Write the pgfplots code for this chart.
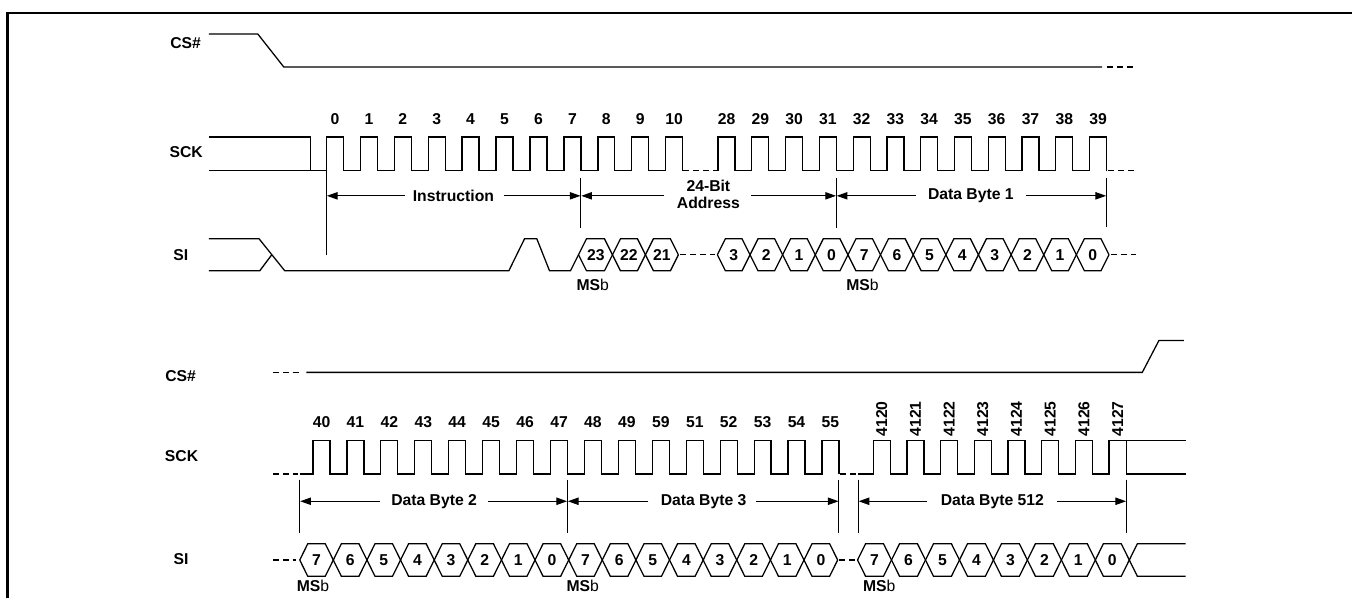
\documentclass[border=0pt]{standalone}
\usepackage{pgfplots}
\pgfplotsset{compat=1.18}
\usepackage{fontspec}
\setmainfont{Liberation Sans}
\newfontfamily\heavyfont{Liberation Sans}[UprightFont={* Bold}]
\newfontfamily\plainfont{Liberation Sans}
\usetikzlibrary{arrows.meta}
\tikzset{
  wave/.style={black, line width=0.95pt, line join=miter},
  dsh/.style={black, line width=0.95pt, dash pattern=on 4.5pt off 3pt},
  mrk/.style={black, line width=0.75pt},
  arr/.style={black, line width=0.75pt, -{Triangle[length=8pt,width=5.5pt]}},
  lbl/.style={font=\heavyfont\fontsize{11.8}{12.75}\selectfont, inner sep=0pt, text=black},
}
\newcommand\lblrow[3]{% style, y, list x/t
  \foreach \x/\t in {#3}{%
    \edef\tmp{\noexpand\node[#1] at (axis cs:\x,#2) {\t};}\tmp}}
\begin{document}
\begin{tikzpicture}
\begin{axis}[
  scale only axis, width=1014.75pt, height=449.25pt,
  xmin=0, xmax=1353, ymin=0, ymax=599, y dir=reverse,
  hide axis, clip=false,
]
% page extent
\addplot[draw=none] coordinates {(0,0)(1353,599)};
% frame
\addplot[black, line width=1.8pt] coordinates {(7.5,599) (7.5,13) (1353,13)};

% ===== Row 1 =====
% CS#
\addplot[wave] coordinates {(209,34)(258,34)(284,67)(1103,67)};
\addplot[dsh] coordinates {(1108,67)(1137,67)};
% SCK
\addplot[wave] coordinates {(209,137)(311,137)(311,171)};
\addplot[wave] coordinates {(209,171)(326.7,171)(326.7,137)(343.7,137)(343.7,171)(360.7,171)(360.7,137)(377.7,137)(377.7,171)(394.6,171)(394.6,137)(411.6,137)(411.6,171)(428.6,171)(428.6,137)(445.6,137)(445.6,171)(462.5,171)(462.5,137)(479.5,137)(479.5,171)(496.5,171)(496.5,137)(513.5,137)(513.5,171)(530.5,171)(530.5,137)(547.5,137)(547.5,171)(564.4,171)(564.4,137)(581.4,137)(581.4,171)(598.4,171)(598.4,137)(615.4,137)(615.4,171)(632.3,171)(632.3,137)(649.3,137)(649.3,171)(666.3,171)(666.3,137)(683.3,137)(683.3,171)};
\addplot[dsh] coordinates {(684,171)(718,171)};
\addplot[wave] coordinates {(718.7,171)(718.7,137)(735.7,137)(735.7,171)(752.5,171)(752.5,137)(769.5,137)(769.5,171)(786.3,171)(786.3,137)(803.3,137)(803.3,171)(820.1,171)(820.1,137)(837.1,137)(837.1,171)(853.9,171)(853.9,137)(870.9,137)(870.9,171)(887.7,171)(887.7,137)(904.7,137)(904.7,171)(921.5,171)(921.5,137)(938.5,137)(938.5,171)(955.3,171)(955.3,137)(972.3,137)(972.3,171)(989.1,171)(989.1,137)(1006.1,137)(1006.1,171)(1022.9,171)(1022.9,137)(1039.9,137)(1039.9,171)(1056.7,171)(1056.7,137)(1073.7,137)(1073.7,171)(1090.5,171)(1090.5,137)(1107.5,137)(1107.5,171)};
\addplot[dsh] coordinates {(1109,171)(1137,171)};
% markers
\addplot[mrk] coordinates {(326.7,171)(326.7,255)};
\addplot[mrk] coordinates {(581.4,178)(581.4,228)};
\addplot[mrk] coordinates {(837.1,178)(837.1,228)};
\addplot[mrk] coordinates {(1107.5,178)(1107.5,227)};
% arrows
\addplot[arr] coordinates {(405,196)(327.2,196)};
\addplot[arr] coordinates {(504,196)(581,196)};
\addplot[arr] coordinates {(665,196)(581.8,196)};
\addplot[arr] coordinates {(751.7,196)(836.7,196)};
\addplot[arr] coordinates {(916.7,196)(837.5,196)};
\addplot[arr] coordinates {(1026.7,196)(1107.1,196)};
% SI
\addplot[wave] coordinates {(209,239)(259.3,239)(285,271)(509.3,271)(525,239)(537.3,239)(550,271)(571,271)(587,239)(605,239)(621,271)(638,271)(654,239)(671,239)(679,255)};
\addplot[wave] coordinates {(209,271)(260,271)(272,255)};
\addplot[wave] coordinates {(579,255)(587,271)(605,271)(621,239)(638,239)(654,271)(671,271)(679,255)};
\addplot[dsh] coordinates {(681,255)(716,255)};
\addplot[wave] coordinates {(718,255)(726,239)(742.7,239)(758.7,271)(775.3,271)(791.3,239)(808,239)(824,271)(840.7,271)(856.7,239)(873.3,239)(889.3,271)(906,271)(922,239)(938.7,239)(954.7,271)(971.3,271)(987.3,239)(1004,239)(1020,271)(1036.7,271)(1052.7,239)(1069.3,239)(1085.3,271)(1102,271)(1110,255)};
\addplot[wave] coordinates {(718,255)(726,271)(742.7,271)(758.7,239)(775.3,239)(791.3,271)(808,271)(824,239)(840.7,239)(856.7,271)(873.3,271)(889.3,239)(906,239)(922,271)(938.7,271)(954.7,239)(971.3,239)(987.3,271)(1004,271)(1020,239)(1036.7,239)(1052.7,271)(1069.3,271)(1085.3,239)(1102,239)(1110,255)};
\addplot[dsh] coordinates {(1112,255)(1137,255)};

% ===== Row 2 =====
% CS#
\addplot[dsh] coordinates {(273,372.7)(302,372.7)};
\addplot[wave] coordinates {(306.7,372.7)(1143.3,372.7)(1160,340.7)(1185,340.7)};
% SCK
\addplot[dsh] coordinates {(273,474.3)(298,474.3)};
\addplot[wave] coordinates {(300,474.3)(313.3,474.3)(313.3,440.7)(330.3,440.7)(330.3,474.3)(347.3,474.3)(347.3,440.7)(364.3,440.7)(364.3,474.3)(381.2,474.3)(381.2,440.7)(398.2,440.7)(398.2,474.3)(415.2,474.3)(415.2,440.7)(432.2,440.7)(432.2,474.3)(449.1,474.3)(449.1,440.7)(466.1,440.7)(466.1,474.3)(483.1,474.3)(483.1,440.7)(500.1,440.7)(500.1,474.3)(517.1,474.3)(517.1,440.7)(534.1,440.7)(534.1,474.3)(551,474.3)(551,440.7)(568,440.7)(568,474.3)(585,474.3)(585,440.7)(602,440.7)(602,474.3)(618.9,474.3)(618.9,440.7)(635.9,440.7)(635.9,474.3)(652.9,474.3)(652.9,440.7)(669.9,440.7)(669.9,474.3)(686.9,474.3)(686.9,440.7)(703.9,440.7)(703.9,474.3)(720.8,474.3)(720.8,440.7)(737.8,440.7)(737.8,474.3)(754.8,474.3)(754.8,440.7)(771.8,440.7)(771.8,474.3)(788.7,474.3)(788.7,440.7)(805.7,440.7)(805.7,474.3)(822.7,474.3)(822.7,440.7)(839.7,440.7)(839.7,474.3)};
\addplot[dsh] coordinates {(841,474.3)(857,474.3)};
\addplot[wave] coordinates {(859,474.3)(874,474.3)(874,440.7)(891,440.7)(891,474.3)(907.7,474.3)(907.7,440.7)(924.7,440.7)(924.7,474.3)(941.4,474.3)(941.4,440.7)(958.4,440.7)(958.4,474.3)(975.1,474.3)(975.1,440.7)(992.1,440.7)(992.1,474.3)(1008.8,474.3)(1008.8,440.7)(1025.8,440.7)(1025.8,474.3)(1042.6,474.3)(1042.6,440.7)(1059.6,440.7)(1059.6,474.3)(1076.3,474.3)(1076.3,440.7)(1093.3,440.7)(1093.3,474.3)(1110,474.3)(1110,440.7)(1186.7,440.7)};
\addplot[wave] coordinates {(1127.5,440.7)(1127.5,474.3)(1186.7,474.3)};
% markers
\addplot[mrk] coordinates {(300,480)(300,533)};
\addplot[mrk] coordinates {(568,480)(568,533)};
\addplot[mrk] coordinates {(839.7,480)(839.7,533)};
\addplot[mrk] coordinates {(859,480)(859,533)};
\addplot[mrk] coordinates {(1127.5,480)(1127.5,533)};
% arrows
\addplot[arr] coordinates {(380,501.7)(300.5,501.7)};
\addplot[arr] coordinates {(488.3,501.7)(567.6,501.7)};
\addplot[arr] coordinates {(649,501.7)(568.4,501.7)};
\addplot[arr] coordinates {(756.7,501.7)(839.3,501.7)};
\addplot[arr] coordinates {(928.3,501.7)(859.4,501.7)};
\addplot[arr] coordinates {(1057.7,501.7)(1127.1,501.7)};
% SI
\addplot[dsh] coordinates {(273,560.5)(296,560.5)};
\addplot[wave] coordinates {(300,560.5)(308,544.3)(325.6,544.3)(341.6,576.7)(359.3,576.7)(375.3,544.3)(392.9,544.3)(408.9,576.7)(426.6,576.7)(442.6,544.3)(460.2,544.3)(476.2,576.7)(493.9,576.7)(509.9,544.3)(527.5,544.3)(543.5,576.7)(561.2,576.7)(577.2,544.3)(594.8,544.3)(610.8,576.7)(628.5,576.7)(644.5,544.3)(662.1,544.3)(678.1,576.7)(695.8,576.7)(711.8,544.3)(729.4,544.3)(745.4,576.7)(763.1,576.7)(779.1,544.3)(796.7,544.3)(812.7,576.7)(830.4,576.7)(838.4,560.5)};
\addplot[wave] coordinates {(300,560.5)(308,576.7)(325.6,576.7)(341.6,544.3)(359.3,544.3)(375.3,576.7)(392.9,576.7)(408.9,544.3)(426.6,544.3)(442.6,576.7)(460.2,576.7)(476.2,544.3)(493.9,544.3)(509.9,576.7)(527.5,576.7)(543.5,544.3)(561.2,544.3)(577.2,576.7)(594.8,576.7)(610.8,544.3)(628.5,544.3)(644.5,576.7)(662.1,576.7)(678.1,544.3)(695.8,544.3)(711.8,576.7)(729.4,576.7)(745.4,544.3)(763.1,544.3)(779.1,576.7)(796.7,576.7)(812.7,544.3)(830.4,544.3)(838.4,560.5)};
\addplot[dsh] coordinates {(840,560.5)(856,560.5)};
\addplot[wave] coordinates {(858.3,560.5)(866.3,544.3)(884.3,544.3)(900.3,576.7)(918.3,576.7)(934.3,544.3)(952.3,544.3)(968.3,576.7)(986.3,576.7)(1002.3,544.3)(1020.3,544.3)(1036.3,576.7)(1054.3,576.7)(1070.3,544.3)(1088.3,544.3)(1104.3,576.7)(1122.3,576.7)(1138.3,544.3)(1186.7,544.3)};
\addplot[wave] coordinates {(858.3,560.5)(866.3,576.7)(884.3,576.7)(900.3,544.3)(918.3,544.3)(934.3,576.7)(952.3,576.7)(968.3,544.3)(986.3,544.3)(1002.3,576.7)(1020.3,576.7)(1036.3,544.3)(1054.3,544.3)(1070.3,576.7)(1088.3,576.7)(1104.3,544.3)(1122.3,544.3)(1138.3,576.7)(1186.7,576.7)};

% ===== Text =====
% signal names
\node[lbl] at (axis cs:185.8,43.3) {CS\#};
\node[lbl] at (axis cs:186.3,152.5) {SCK};
\node[lbl] at (axis cs:181,255) {SI};
\node[lbl] at (axis cs:180.8,376) {CS\#};
\node[lbl] at (axis cs:181.7,456.7) {SCK};
\node[lbl] at (axis cs:181.2,560) {SI};
% clock numbers
\lblrow{lbl}{119.5}{335.2/0,369.2/1,403.1/2,437.1/3,471/4,505/5,539/6,572.9/7,606.9/8,640.8/9,674.8/10,727.2/28,761/29,794.8/30,828.6/31,862.4/32,896.2/33,930/34,963.8/35,997.6/36,1031.4/37,1065.2/38,1099/39}
\lblrow{lbl}{422.7}{321.8/40,355.8/41,389.7/42,423.7/43,457.6/44,491.6/45,525.6/46,559.5/47,593.5/48,627.4/49,661.4/59,695.4/51,729.3/52,763.3/53,797.2/54,831.2/55}
\lblrow{lbl,rotate=90,anchor=west}{437}{882.5/4120,916.2/4121,949.9/4122,983.6/4123,1017.3/4124,1051.1/4125,1084.8/4126,1118.5/4127}
% interval labels
\node[lbl] at (axis cs:453.8,196) {Instruction};
\node[lbl, align=center] at (axis cs:709,194.5) {24-Bit\\Address};
\node[lbl] at (axis cs:971.7,196) {Data Byte 1};
\node[lbl] at (axis cs:434.5,501.7) {Data Byte 2};
\node[lbl] at (axis cs:704.2,501.7) {Data Byte 3};
\node[lbl] at (axis cs:993.2,501.7) {Data Byte 512};
% bit labels
\lblrow{lbl}{255}{596.3/23,629.5/22,662.5/21,734.3/3,767/2,799.7/1,832.3/0,865/7,897.7/6,930.3/5,963/4,995.7/3,1028.3/2,1061/1,1093.7/0}
\lblrow{lbl}{560.5}{316.8/7,350.5/6,384.1/5,417.8/4,451.4/3,485.1/2,518.7/1,552.4/0,586/7,619.7/6,653.3/5,687/4,720.6/3,754.3/2,787.9/1,821.6/0,875.3/7,909.3/6,943.3/5,977.3/4,1011.3/3,1045.3/2,1079.3/1,1113.3/0}
% MSb
\node[lbl] at (axis cs:593.3,285) {MS{\plainfont b}};
\node[lbl] at (axis cs:863.3,285) {MS{\plainfont b}};
\node[lbl] at (axis cs:313.3,586.7) {MS{\plainfont b}};
\node[lbl] at (axis cs:583.3,586.7) {MS{\plainfont b}};
\node[lbl] at (axis cs:880,586.7) {MS{\plainfont b}};
\end{axis}
\end{tikzpicture}
\end{document}
